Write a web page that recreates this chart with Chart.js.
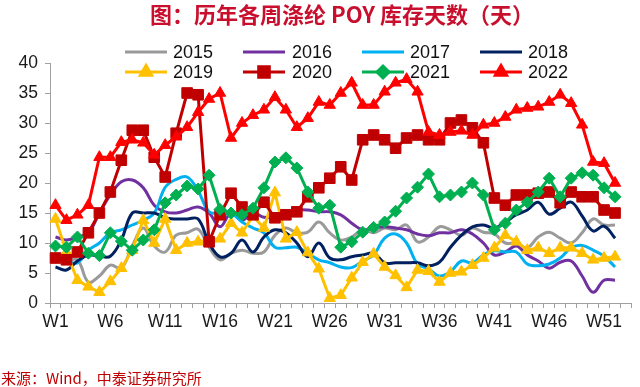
<!DOCTYPE html>
<html><head><meta charset="utf-8">
<script src="https://cdn.jsdelivr.net/npm/chart.js@4.4.1/dist/chart.umd.min.js"></script>
<style>html,body{margin:0;padding:0;background:#fff;}#wrap{width:640px;height:387px;}</style>
</head><body><div id="wrap"><canvas id="c" width="640" height="387"></canvas></div>
<script>
const weeks = ['W1','W2','W3','W4','W5','W6','W7','W8','W9','W10','W11','W12','W13','W14','W15','W16','W17','W18','W19','W20','W21','W22','W23','W24','W25','W26','W27','W28','W29','W30','W31','W32','W33','W34','W35','W36','W37','W38','W39','W40','W41','W42','W43','W44','W45','W46','W47','W48','W49','W50','W51','W52','W53'];
const xTickLabels = ['W1','W6','W11','W16','W21','W26','W31','W36','W41','W46','W51'];
const yTicks = [0,5,10,15,20,25,30,35,40];
const seriesNames = ['2015','2016','2017','2018','2019','2020','2021','2022'];
const s2015 = [7.2,7.0,7.2,3.5,4.5,6.3,5.8,9.5,12.5,9.5,8.5,11.3,11.7,12.3,9.3,7.2,8.3,8.8,8.3,8.5,11.3,12.5,11.7,11.8,13.5,11.7,10.5,11,12.2,11.7,12.5,12.2,13,10.2,11,12.7,12.2,11.3,12.5,11.8,11.5,10,10,9.2,11,11.8,10.8,10,11.7,14,13,13];
const s2016 = [11,10.5,11,11.7,15,18,20.2,20.5,19.2,16.3,15.2,15,15.5,16,15,12.7,15,13.8,15,14.3,14.3,15,15.5,15.5,15.2,15.2,14.7,13.3,12.2,12.5,12.7,12.5,12.2,11.5,11.2,11.7,11.7,12.2,11.5,10,8,8.5,9.5,8,7,5.8,6.8,7,4.5,1.8,3.8,3.8];
const s2017 = [7.5,7,6.7,8.8,10,11.7,12.2,13,13.8,15,19.3,20.6,21,18.7,15.2,15,15,13.5,12.5,11.7,9.3,9.2,9.3,8.3,7.2,6.7,6,5.9,7,8,10.8,11.5,10,6.5,5.7,4.5,5.2,7,6.7,8,8.7,8.5,8.5,6.5,6.2,6.5,7.5,9.2,9.6,8.8,7.8,6];
const s2018 = [6,5.5,7,8,7.8,7.8,10.5,15,15,15,14.2,14,14,14,10,7.7,8.3,10.5,8.5,11,12.2,11.7,10,7.7,10,7.5,7.2,7.7,8,8.3,6.7,6.7,6.7,6.7,6.2,6.8,9.3,11.3,12.7,13,12.5,13.5,14.7,15.5,16.8,14.8,15.8,16.8,14.5,12,12.8,10.8];
const s2019 = [14,8.5,3.8,2.7,1.8,3.6,5.8,8.8,13.8,10,14,8.8,10,10.2,10.5,10.7,13.3,11.7,14.5,12.5,18.4,10.7,11.8,8.4,5.7,0.8,1.3,4.2,6.8,8.2,6,4.6,2.6,5.5,5.3,3.5,5,5.2,6.3,7.5,9.2,11.3,10.2,8.8,9.2,8.3,9.2,9.2,8.3,7.2,7.5,7.7];
const s2020 = [7.5,7.2,8.5,11.7,15,18.5,23.8,28.8,28.8,24.3,21,28.3,35,34.7,10.2,14.7,18.3,16,14.7,16.8,14.2,14.7,15.2,17.7,19.2,20.8,22.7,20.5,27.2,28,27.2,25.8,27.5,28,27.2,27.2,30,30.5,29.2,26.7,17.5,16.3,18,18,18.3,18.5,16.7,18.5,17.7,17.7,15.5,15];
const s2021 = [9.5,9.3,11,8.3,7.9,11.7,10.3,8.8,10.5,12.2,16.7,18,19.5,19,21.3,15.6,15,14.7,15.8,19.2,23.5,24.2,22.5,18.5,15.8,16.3,9.3,10.2,11.8,12.6,13.5,15.3,17.5,19.3,21.5,17.7,18,18.5,20,18,12.2,13.3,15.5,16.8,18.5,20.8,17.7,20.8,21.7,21.3,19.2,17.7];
const s2022 = [16.3,13.8,14.7,16.3,24.3,24.3,26.8,27.2,26.7,24.7,26.3,27.7,29.3,31.8,34,35,27.5,30,31.3,32.2,34.3,32.2,29.3,30.8,33.5,33,35,36.7,33,33,35.2,36.7,37.3,35.2,28.5,28,28.5,28.7,28,29.7,30,31,32.2,32.5,32.7,33.5,34.7,33.3,29.7,23.5,23.3,20];
const titleText = '图：历年各周涤纶 POY 库存天数（天）';
const sourceText = '来源：Wind，中泰证券研究所';

const seriesData = [s2015,s2016,s2017,s2018,s2019,s2020,s2021,s2022];
const colors = ['#9a9a9a','#7030A0','#00B0F0','#002060','#FFC000','#C00000','#00B050','#FF0000'];
const markers = [null,null,null,null,'triangle','rect','rectRot','triangle'];
const markerR = [0,0,0,0,6.5,7.5,6,6.5];

const datasets = seriesNames.map((n,i)=>({
  label:n, data:seriesData[i], borderColor:colors[i], backgroundColor:colors[i],
  borderWidth:3, tension: markers[i]?0:0.4, order: 7-i,
  pointStyle: markers[i]||'circle', pointRadius: markers[i]?markerR[i]:0,
  pointBackgroundColor: colors[i], pointBorderColor: colors[i], pointBorderWidth:1,
  pointHoverRadius: markers[i]?markerR[i]:0, fill:false
}));

const legendPos = { lineX:[125,243,362,480], textX:[173,292,410,528], rowY:[52,72] };

const customDecor = {
  id:'customDecor',
  afterDraw(chart){
    const ctx = chart.ctx;
    ctx.save();
    // title
    ctx.fillStyle = '#C8102E';
    ctx.font = "bold 22px 'Noto Sans CJK SC', sans-serif";
    ctx.textAlign = 'center'; ctx.textBaseline = 'middle';
    ctx.fillText(titleText, 342, 15);
    // legend
    seriesNames.forEach((n,i)=>{
      const col = i%4, row = Math.floor(i/4);
      const x0 = legendPos.lineX[col], y = legendPos.rowY[row];
      ctx.strokeStyle = colors[i]; ctx.lineWidth = 3;
      ctx.beginPath(); ctx.moveTo(x0,y); ctx.lineTo(x0+42,y); ctx.stroke();
      if (markers[i]) {
        ctx.fillStyle = colors[i];
        Chart.helpers.drawPoint(ctx,{pointStyle:markers[i],rotation:0,radius:markerR[i],borderWidth:1},x0+21,y);
      }
      ctx.fillStyle = '#111';
      ctx.font = "18px 'Liberation Sans', Arial, sans-serif";
      ctx.textAlign='left'; ctx.textBaseline='middle';
      ctx.fillText(n, legendPos.textX[col], y+1);
    });
    // source
    ctx.fillStyle = '#C00000';
    ctx.font = "15px 'Noto Sans CJK SC', sans-serif";
    ctx.textAlign='left'; ctx.textBaseline='middle';
    ctx.fillText(sourceText, 1, 378);
    ctx.restore();
  }
};

Chart.defaults.font.family = "'Liberation Sans', Arial, sans-serif";
new Chart(document.getElementById('c'), {
  type:'line',
  data:{labels:weeks, datasets},
  options:{
    responsive:false, animation:false, devicePixelRatio:1,
    layout:{padding:{left:0,right:3,top:63,bottom:0}},
    plugins:{ legend:{display:false}, tooltip:{enabled:false}, title:{display:false} },
    scales:{
      x:{
        offset:true,
        grid:{display:true, drawOnChartArea:false, drawTicks:true, tickLength:5, offset:true, color:'#a0a0a0', lineWidth:1},
        border:{display:true, color:'#a0a0a0', width:1},
        ticks:{autoSkip:false, maxRotation:0, minRotation:0, padding:4, color:'#1a1a1a',
          font:{size:17.5},
          callback:function(v,i){ return xTickLabels.includes(weeks[i]) ? weeks[i] : ''; }},
        afterFit(s){ s.height = 84; }
      },
      y:{
        min:yTicks[0], max:yTicks[yTicks.length-1],
        grid:{display:true, drawOnChartArea:false, drawTicks:true, tickLength:5, color:'#a0a0a0'},
        border:{display:true, color:'#a0a0a0', width:1},
        ticks:{stepSize:5, padding:7, color:'#1a1a1a', font:{size:17.5}},
        afterFit(s){ s.width = 50; }
      }
    }
  },
  plugins:[customDecor]
});
</script>
</body></html>
